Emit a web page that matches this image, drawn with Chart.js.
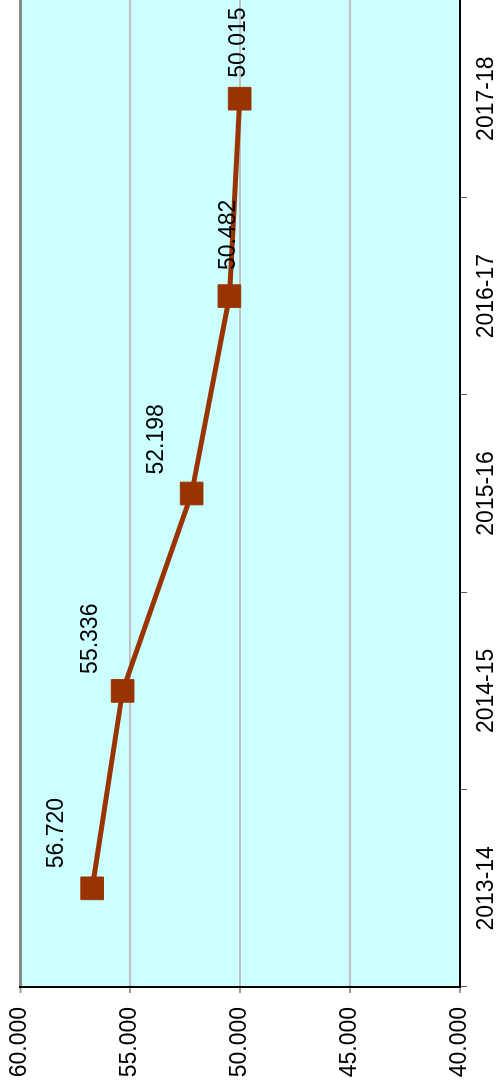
<!DOCTYPE html>
<html>
<head>
<meta charset="utf-8">
<script src="https://cdn.jsdelivr.net/npm/chart.js@4.4.0/dist/chart.umd.min.js"></script>
<style>
  html, body { margin: 0; padding: 0; background: #fff; overflow: hidden; }
  #wrap {
    position: absolute; left: 0; top: 0;
    width: 1086px; height: 498px;
    transform-origin: 0 0;
    transform: translate(0, 1086px) rotate(-90deg);
  }
</style>
</head>
<body>
<div id="wrap"><canvas id="chart" width="1086" height="498"></canvas></div>
<script>
const years = ['2013-14', '2014-15', '2015-16', '2016-17', '2017-18'];
const values = [56.720, 55.336, 52.198, 50.482, 50.015];
const axisMin = 40;
const axisMax = 60;
const axisStep = 5;

// label offsets from each point (chart is drawn sideways, then turned)
const labelOffsets = [[20, -36], [17, -32], [19, -35], [26, -1], [21, -1]];

const FONT = '"Liberation Sans", Arial, sans-serif';

const plotBackground = {
  id: 'plotBackground',
  beforeDraw(chart) {
    const { ctx, chartArea: a } = chart;
    ctx.save();
    ctx.fillStyle = '#fff';
    ctx.fillRect(0, 0, chart.width, chart.height);
    ctx.fillStyle = '#ccffff';
    ctx.fillRect(a.left, a.top, a.right - a.left, a.bottom - a.top);
    ctx.restore();
  }
};

const pointLabels = {
  id: 'pointLabels',
  afterDatasetsDraw(chart) {
    const ctx = chart.ctx;
    const meta = chart.getDatasetMeta(0);
    ctx.save();
    ctx.font = '23px ' + FONT;
    ctx.fillStyle = '#000';
    ctx.textAlign = 'left';
    ctx.textBaseline = 'middle';
    meta.data.forEach((pt, i) => {
      const [dx, dy] = labelOffsets[i];
      ctx.fillText(values[i].toFixed(3), pt.x + dx, pt.y + dy);
    });
    ctx.restore();
  }
};

function noPadding(s) {
  s.paddingTop = 0;
  s.paddingBottom = 0;
  s.paddingLeft = 0;
  s.paddingRight = 0;
}

new Chart(document.getElementById('chart'), {
  type: 'line',
  data: {
    labels: years,
    datasets: [{
      data: values,
      borderColor: '#993300',
      backgroundColor: '#993300',
      borderWidth: 5,
      tension: 0,
      clip: false,
      pointStyle: 'rect',
      pointRadius: 16,
      pointBorderWidth: 1,
      pointBorderColor: '#993300',
      pointBackgroundColor: '#993300'
    }]
  },
  options: {
    responsive: false,
    animation: false,
    layout: { autoPadding: false, padding: { top: 20, right: 0, bottom: 0, left: 0 } },
    plugins: { legend: { display: false }, tooltip: { enabled: false } },
    scales: {
      x: {
        type: 'category',
        offset: true,
        afterFit: (s) => { s.height = 38; noPadding(s); },
        grid: { offset: true, drawOnChartArea: false, tickLength: 7, tickColor: '#555', tickWidth: 1 },
        border: { color: '#000', width: 2 },
        ticks: { color: '#000', font: { family: FONT, size: 23 }, padding: 6, maxRotation: 0, autoSkip: false }
      },
      y: {
        min: axisMin,
        max: axisMax,
        afterFit: (s) => { s.width = 99; noPadding(s); },
        grid: {
          color: (c) => c.tick && c.tick.value === axisMax ? '#888' : '#c0c0c0',
          lineWidth: (c) => c.tick && c.tick.value === axisMax ? 3 : 2,
          tickLength: 6,
          tickColor: '#999',
          tickWidth: 2
        },
        border: { color: '#000', width: 2 },
        ticks: {
          stepSize: axisStep,
          color: '#000',
          font: { family: FONT, size: 23 },
          padding: 14,
          callback: (v) => v.toFixed(3)
        }
      }
    }
  },
  plugins: [plotBackground, pointLabels]
});
</script>
</body>
</html>
